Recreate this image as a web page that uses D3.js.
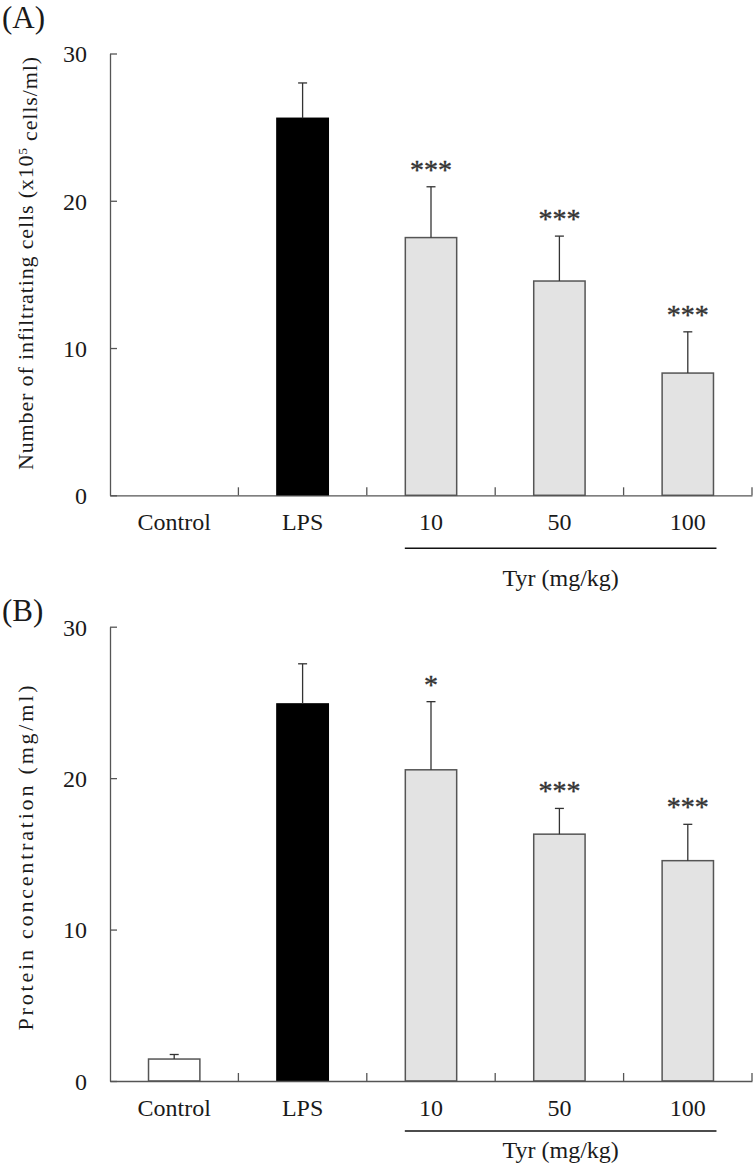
<!DOCTYPE html>
<html><head><meta charset="utf-8">
<script src="https://cdn.jsdelivr.net/npm/d3@7"></script>
<style>body{margin:0;background:#fff}svg{display:block}text{font-family:"Liberation Serif","Times New Roman",serif;fill:#1a1a1a}</style>
</head><body>
<script>
const categories = ["Control","LPS","10","50","100"];
const fillKinds = ["white","black","gray","gray","gray"];
const yTicks = [0,10,20,30];
const cellsMean = [0, 25.6, 17.5, 14.55, 8.3];
const cellsErr  = [0, 28.0, 20.95, 17.6, 11.1];
const cellsSig  = ["", "", "***", "***", "***"];
const protMean  = [1.45, 24.9, 20.55, 16.3, 14.55];
const protErr   = [1.75, 27.55, 25.05, 18.0, 16.95];
const protSig   = ["", "", "*", "***", "***"];

const W = 756, H = 1173;
const svg = d3.select("body").append("svg").attr("width", W).attr("height", H);
const colors = {white:"#ffffff", black:"#000000", gray:"#e3e3e3"};

function panel(opts){
  const {label, labelY, y0, y30, mean, err, sig, title, titleY, titleLen, lineOff, tyrOff} = opts;
  const x = d3.scaleBand().domain(categories).range([110, 752]).paddingInner(0.6).paddingOuter(0.3);
  const y = d3.scaleLinear().domain([0,30]).range([y0, y30]);
  const g = svg.append("g");
  const bw = x.bandwidth(), step = x.step();

  categories.forEach((c,i)=>{
    if (mean[i] <= 0) return;
    g.append("rect").attr("x", x(c)).attr("y", y(mean[i])).attr("width", bw)
      .attr("height", y(0)-y(mean[i])).attr("fill", colors[fillKinds[i]])
      .attr("stroke", fillKinds[i]==="black" ? "#000" : "#555").attr("stroke-width", 1.5);
    const cx = x(c)+bw/2;
    g.append("line").attr("x1",cx).attr("x2",cx).attr("y1",y(mean[i])).attr("y2",y(err[i])).attr("stroke","#333").attr("stroke-width",1.3);
    g.append("line").attr("x1",cx-4.5).attr("x2",cx+4.5).attr("y1",y(err[i])).attr("y2",y(err[i])).attr("stroke","#333").attr("stroke-width",1.3);
    if (sig[i]) {
      g.append("text").attr("x", cx).attr("y", y(err[i]) - 8).attr("text-anchor","middle")
        .style("font-size","28px").style("fill","#333").style("stroke","#333").style("stroke-width","0.4").text(sig[i]);
    }
  });

  const ya = g.append("g").attr("transform","translate(110,0)")
    .call(d3.axisLeft(y).tickValues(yTicks).tickSizeInner(-7).tickSizeOuter(0).tickPadding(23));
  ya.selectAll("path,line").attr("stroke","#555").attr("stroke-width",1.3);
  ya.selectAll("text").style("font-size","24px").attr("dy","0.35em").style("font-family","Liberation Serif");

  const xa = g.append("g").attr("transform",`translate(0,${y0})`)
    .call(d3.axisBottom(x).tickSize(0).tickPadding(18));
  xa.select(".domain").attr("stroke","#555").attr("stroke-width",1.3);
  xa.selectAll("text").style("font-size","24px").style("font-family","Liberation Serif").attr("dy","0.71em");
  categories.forEach((c,i)=>{
    const bx = x(c)+bw+(step-bw)/2;
    g.append("line").attr("x1",bx).attr("x2",bx).attr("y1",y0).attr("y2",y0-8).attr("stroke","#555").attr("stroke-width",1.3);
  });

  const lx1 = x("10") - 0.5, lx2 = x("100")+bw+3;
  g.append("line").attr("x1",lx1).attr("x2",lx2).attr("y1",y0+lineOff).attr("y2",y0+lineOff).attr("stroke","#111").attr("stroke-width",1.5);
  g.append("text").attr("x",(lx1+lx2)/2).attr("y",y0+tyrOff).attr("text-anchor","middle").style("font-size","24px").text("Tyr (mg/kg)");

  g.append("text").attr("x",2).attr("y",labelY).style("font-size","31px").text(label);

  const t = g.append("text").attr("transform",`translate(33,${titleY}) rotate(-90)`).attr("text-anchor","middle")
    .style("font-size","22px").attr("textLength", titleLen).attr("lengthAdjust","spacing");
  title(t);
}

panel({label:"(A)", labelY:28, y0:495.3, y30:53.5, mean:cellsMean, err:cellsErr, sig:cellsSig, titleY:263.5, titleLen:413, lineOff:53, tyrOff:91,
  title:t=>{ t.append("tspan").text("Number of infiltrating cells (x10");
             t.append("tspan").attr("dy","-0.45em").style("font-size","13px").text("5");
             t.append("tspan").attr("dy","0.45em").text(" cells/ml)"); }});
panel({label:"(B)", labelY:621, y0:1081, y30:626.7, mean:protMean, err:protErr, sig:protSig, titleY:858, titleLen:345, lineOff:50, tyrOff:77,
  title:t=>{ t.text("Protein concentration (mg/ml)"); }});
</script>
</body></html>
